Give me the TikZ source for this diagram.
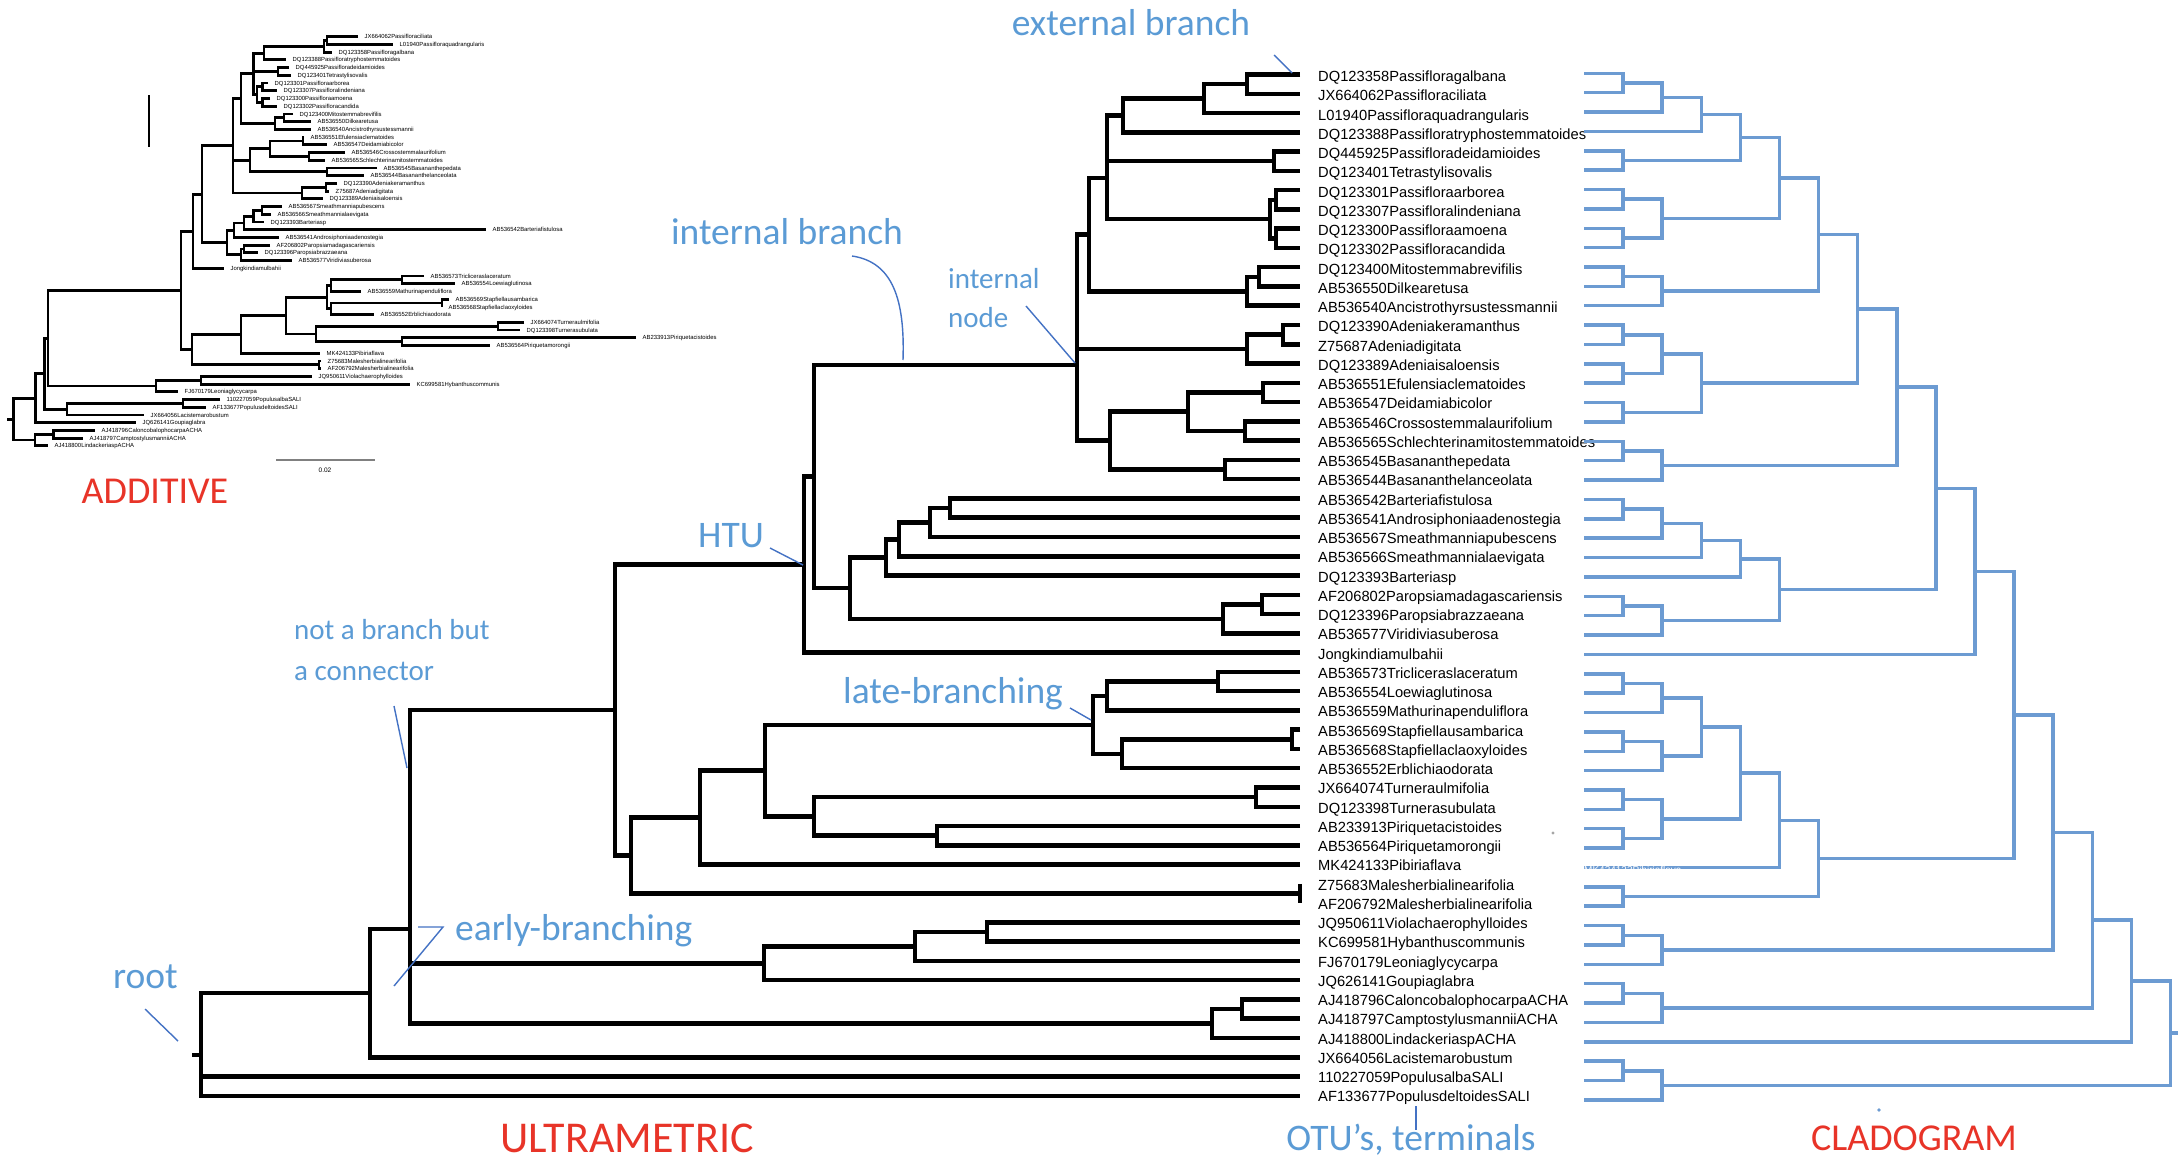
\documentclass[tikz,border=0pt]{standalone}
\usepackage{fontspec}
\setmainfont{Liberation Sans}
\newfontfamily\annfont{Carlito}
\usetikzlibrary{calc}
\definecolor{anncol}{RGB}{91,155,213}
\definecolor{callcol}{RGB}{68,114,196}
\definecolor{cladcol}{RGB}{108,155,210}
\definecolor{redcol}{RGB}{232,52,40}
\newcommand\bnode[4]{\coordinate (X) at (#2,0); \coordinate (#1) at ($(X |- #3)!0.5!(X |- #4)$); \draw[ult] (#3) -| (#1) |- (#4);}
\newcommand\bnodeat[5]{\coordinate (#1) at (#2,#3); \draw[ult] (#4) -| (#1) |- (#5);}
\newcommand\bstem[2]{\draw[ult] (#1) |- (#2);}
\newcommand\cnode[4]{\coordinate (#1) at ($(L#2 |- #3)!0.5!(L#2 |- #4)$); \draw[cl] (#3) -| (#1) |- (#4);}
\newcommand\anode[4]{\coordinate (X) at (#2,0); \coordinate (#1) at ($(X |- #3)!0.5!(X |- #4)$); \draw[add] (#3) -| (#1) |- (#4);}
\newcommand\astem[2]{\draw[add] (#1) |- (#2);}
\begin{document}
\begin{tikzpicture}[x=1pt,y=-1pt,
  ult/.style={line width=4.5pt,line join=miter},
  cl/.style={draw=cladcol,line width=3.5pt,line join=miter},
  add/.style={line width=2.8pt,line join=miter},
  lab/.style={anchor=base west,inner sep=0pt,font=\fontsize{14.7}{16}\selectfont},
  alab/.style={anchor=base west,inner sep=0pt,font=\fontsize{5.9}{6}\selectfont},
  annbig/.style={text=anncol,inner sep=0pt,anchor=base,font=\annfont\fontsize{37.5}{40}\selectfont},
  annsmall/.style={text=anncol,inner sep=0pt,anchor=base west,align=left,font=\annfont\fontsize{29}{40}\selectfont},
  redlabel/.style={text=redcol,inner sep=0pt,anchor=base,font=\annfont\fontsize{38}{42}\selectfont},
  co/.style={draw=callcol,line width=1.4pt}]
\fill[white] (0,0) rectangle (2184,1170);
\useasboundingbox (0,0) rectangle (2184,1170);

% ---------- tip coordinates ----------
\foreach \i in {1,...,54}{
  \coordinate (t\i) at (1300,{74.5+19.27*(\i-1)});
  \coordinate (u\i) at (1584,{73.3+19.37*(\i-1)});
}

% ---------- taxon labels ----------
\foreach \s [count=\i] in {DQ123358Passifloragalbana,JX664062Passifloraciliata,L01940Passifloraquadrangularis,DQ123388Passifloratryphostemmatoides,DQ445925Passifloradeidamioides,DQ123401Tetrastylisovalis,DQ123301Passifloraarborea,DQ123307Passifloralindeniana,DQ123300Passifloraamoena,DQ123302Passifloracandida,DQ123400Mitostemmabrevifilis,AB536550Dilkearetusa,AB536540Ancistrothyrsustessmannii,DQ123390Adeniakeramanthus,Z75687Adeniadigitata,DQ123389Adeniaisaloensis,AB536551Efulensiaclematoides,AB536547Deidamiabicolor,AB536546Crossostemmalaurifolium,AB536565Schlechterinamitostemmatoides,AB536545Basananthepedata,AB536544Basananthelanceolata,AB536542Barteriafistulosa,AB536541Androsiphoniaadenostegia,AB536567Smeathmanniapubescens,AB536566Smeathmannialaevigata,DQ123393Barteriasp,AF206802Paropsiamadagascariensis,DQ123396Paropsiabrazzaeana,AB536577Viridiviasuberosa,Jongkindiamulbahii,AB536573Tricliceraslaceratum,AB536554Loewiaglutinosa,AB536559Mathurinapenduliflora,AB536569Stapfiellausambarica,AB536568Stapfiellaclaoxyloides,AB536552Erblichiaodorata,JX664074Turneraulmifolia,DQ123398Turnerasubulata,AB233913Piriquetacistoides,AB536564Piriquetamorongii,MK424133Pibiriaflava,Z75683Malesherbialinearifolia,AF206792Malesherbialinearifolia,JQ950611Violachaerophylloides,KC699581Hybanthuscommunis,FJ670179Leoniaglycycarpa,JQ626141Goupiaglabra,AJ418796CaloncobalophocarpaACHA,AJ418797CamptostylusmanniiACHA,AJ418800LindackeriaspACHA,JX664056Lacistemarobustum,110227059PopulusalbaSALI,AF133677PopulusdeltoidesSALI}{
  \node[lab] (n\i) at (1318,{81.5+19.25*(\i-1)}) {\s};
}

% ---------- ultrametric tree (black) ----------
\bnode{b12}{1247}{t1}{t2}
\bnode{b123}{1204}{b12}{t3}
\bnode{b1234}{1123}{b123}{t4}
\bnode{b56}{1274}{t5}{t6}
\bnode{b78}{1276}{t7}{t8}
\bnode{b910}{1276}{t9}{t10}
\bnode{b710}{1270}{b78}{b910}
\bnodeat{bA}{1107}{178}{b1234}{b710}
\bstem{bA}{b56}
\bnode{b1112}{1259}{t11}{t12}
\bnode{b1113}{1247}{b1112}{t13}
\bnode{bB}{1089}{bA}{b1113}
\bnode{b1415}{1283}{t14}{t15}
\bnode{b1416}{1247}{b1415}{t16}
\bnode{b1718}{1263}{t17}{t18}
\bnode{b1920}{1245}{t19}{t20}
\bnode{b1720}{1188}{b1718}{b1920}
\bnode{b2122}{1225}{t21}{t22}
\bnode{b1722}{1110}{b1720}{b2122}
\bnodeat{bC}{1077}{365}{bB}{b1722}
\bstem{bC}{b1416}
\bnode{b2324}{950}{t23}{t24}
\bnode{b2325}{930}{b2324}{t25}
\bnode{b2326}{899}{b2325}{t26}
\bnode{b2327}{886}{b2326}{t27}
\bnode{b2829}{1262}{t28}{t29}
\bnode{b2830}{1223}{b2829}{t30}
\bnode{bD}{850}{b2327}{b2830}
\bnode{bE}{814}{bC}{bD}
\bnode{bHTU}{804}{bE}{t31}
\bnode{b3233}{1218}{t32}{t33}
\bnode{b3234}{1107}{b3233}{t34}
\bnode{b3536}{1292}{t35}{t36}
\bnode{b3537}{1122}{b3536}{t37}
\bnode{bLate}{1093}{b3234}{b3537}
\bnode{b3839}{1256}{t38}{t39}
\bnode{b4041}{937}{t40}{t41}
\bnode{b3841}{814}{b3839}{b4041}
\bnode{bF}{765}{bLate}{b3841}
\bnode{bG}{700}{bF}{t42}
\bnode{b4344}{1300}{t43}{t44}
\bnode{bH}{631}{bG}{b4344}
\bnode{bI}{615}{bHTU}{bH}
\bnode{b4546}{987}{t45}{t46}
\bnode{b4547}{915}{b4546}{t47}
\bnode{b4548}{764}{b4547}{t48}
\bnode{b4950}{1242}{t49}{t50}
\bnode{b4951}{1212}{b4950}{t51}
\bnodeat{bJ}{410}{929}{bI}{b4951}
\bstem{bJ}{b4548}
\bnode{bK}{370}{bJ}{t52}
\bnodeat{root}{201}{1055}{bK}{t54}
\bstem{root}{t53}
\coordinate (rootstub) at (192,1055);
\draw[ult] (rootstub) -- (root);

% ---------- cladogram (blue) ----------
\foreach \k in {1,...,15} \coordinate (L\k) at ({1584+39.1*\k},0);
\cnode{c1}{1}{u1}{u2}
\cnode{c2}{2}{c1}{u3}
\cnode{c3}{3}{c2}{u4}
\cnode{c5}{1}{u5}{u6}
\cnode{c4}{4}{c3}{c5}
\cnode{c7}{1}{u7}{u8}
\cnode{c9}{1}{u9}{u10}
\cnode{c7b}{2}{c7}{c9}
\cnode{c6}{5}{c4}{c7b}
\cnode{c11}{1}{u11}{u12}
\cnode{c11b}{2}{c11}{u13}
\cnode{c8}{6}{c6}{c11b}
\cnode{c14}{1}{u14}{u15}
\cnode{c16}{1}{u16}{u17}
\cnode{c14b}{2}{c14}{c16}
\cnode{c18}{1}{u18}{u19}
\cnode{c14c}{3}{c14b}{c18}
\cnode{c10}{7}{c8}{c14c}
\cnode{c20}{1}{u20}{u21}
\cnode{c20b}{2}{c20}{u22}
\cnode{c12}{8}{c10}{c20b}
\cnode{c23}{1}{u23}{u24}
\cnode{c23b}{2}{c23}{u25}
\cnode{c23c}{3}{c23b}{u26}
\cnode{c23d}{4}{c23c}{u27}
\cnode{c28}{1}{u28}{u29}
\cnode{c28b}{2}{c28}{u30}
\cnode{c23e}{5}{c23d}{c28b}
\cnode{c13}{9}{c12}{c23e}
\cnode{c15}{10}{c13}{u31}
\cnode{c32}{1}{u32}{u33}
\cnode{c32b}{2}{c32}{u34}
\cnode{c35}{1}{u35}{u36}
\cnode{c35b}{2}{c35}{u37}
\cnode{c32c}{3}{c32b}{c35b}
\cnode{c38}{1}{u38}{u39}
\cnode{c40}{1}{u40}{u41}
\cnode{c38b}{2}{c38}{c40}
\cnode{c32d}{4}{c32c}{c38b}
\cnode{c32e}{5}{c32d}{u42}
\cnode{c43}{1}{u43}{u44}
\cnode{c32f}{6}{c32e}{c43}
\cnode{c16x}{11}{c15}{c32f}
\cnode{c45}{1}{u45}{u46}
\cnode{c45b}{2}{c45}{u47}
\cnode{c17}{12}{c16x}{c45b}
\cnode{c48}{1}{u48}{u49}
\cnode{c48b}{2}{c48}{u50}
\cnode{c18x}{13}{c17}{c48b}
\cnode{c19}{14}{c18x}{u51}
\cnode{c52}{1}{u52}{u53}
\cnode{c52b}{2}{c52}{u54}
\cnode{croot}{15}{c19}{c52b}
\coordinate (Lend) at (2178,0);
\coordinate (cstub) at (Lend |- croot);
\draw[cl] (croot) -- (cstub);
% faint ghost text crossing the blue line of row 42
\node[anchor=base west,inner sep=0pt,text=white,font=\fontsize{10}{11}\selectfont] (ghost) at ($(u42)+(0,6)$) {MK424133Pibiriaflava};

% ---------- additive tree ----------
\foreach \tx/\s [count=\i] in {358/JX664062Passifloraciliata,393/L01940Passifloraquadrangularis,332/DQ123358Passifloragalbana,286/DQ123388Passifloratryphostemmatoides,289/DQ445925Passifloradeidamioides,291/DQ123401Tetrastylisovalis,268/DQ123301Passifloraarborea,277/DQ123307Passifloralindeniana,270/DQ123300Passifloraamoena,277/DQ123302Passifloracandida,293/DQ123400Mitostemmabrevifilis,311/AB536550Dilkearetusa,311/AB536540Ancistrothyrsustessmannii,304/AB536551Efulensiaclematoides,327/AB536547Deidamiabicolor,345/AB536546Crossostemmalaurifolium,325/AB536565Schlechterinamitostemmatoides,377/AB536545Basananthepedata,364/AB536544Basananthelanceolata,337/DQ123390Adeniakeramanthus,329/Z75687Adeniadigitata,323/DQ123389Adeniaisaloensis,282/AB536567Smeathmanniapubescens,271/AB536566Smeathmannialaevigata,264/DQ123393Barteriasp,486/AB536542Barteriafistulosa,279/AB536541Androsiphoniaadenostegia,270/AF206802Paropsiamadagascariensis,258/DQ123396Paropsiabrazzaeana,292/AB536577Viridiviasuberosa,224/Jongkindiamulbahii,424/AB536573Tricliceraslaceratum,455/AB536554Loewiaglutinosa,361/AB536559Mathurinapenduliflora,449/AB536569Stapfiellausambarica,442/AB536568Stapfiellaclaoxyloides,374/AB536552Erblichiaodorata,524/JX664074Turneraulmifolia,520/DQ123398Turnerasubulata,636/AB233913Piriquetacistoides,490/AB536564Piriquetamorongii,320/MK424133Pibiriaflava,321/Z75683Malesherbialinearifolia,321/AF206792Malesherbialinearifolia,312/JQ950611Violachaerophylloides,410/KC699581Hybanthuscommunis,178/FJ670179Leoniaglycycarpa,220/110227059PopulusalbaSALI,206/AF133677PopulusdeltoidesSALI,144/JX664056Lacistemarobustum,136/JQ626141Goupiaglabra,95/AJ418796CaloncobalophocarpaACHA,83/AJ418797CamptostylusmanniiACHA,48/AJ418800LindackeriaspACHA}{
  \coordinate (s\i) at (\tx,{36.7+7.72*(\i-1)});
  \node[alab] (m\i) at (\tx+6.5,{38.8+7.72*(\i-1)}) {\s};
}
\anode{A12}{327}{s1}{s2}
\anode{A123}{324}{A12}{s3}
\anode{A4}{264}{A123}{s4}
\anode{A56}{278}{s5}{s6}
\anode{A78}{262.5}{s7}{s8}
\anode{A910}{262.5}{s9}{s10}
\anode{A710}{257}{A78}{A910}
\anode{A5x}{253.6}{A4}{A710}
\astem{A5x}{A56}
\anode{A1112}{284}{s11}{s12}
\anode{A1113}{275}{A1112}{s13}
\anode{A7x}{241}{A5x}{A1113}
\anode{A1415}{303}{s14}{s15}
\anode{A1617}{309}{s16}{s17}
\anode{A1417}{270}{A1415}{A1617}
\anode{A1819}{327}{s18}{s19}
\anode{A1419}{250}{A1417}{A1819}
\anode{A2021}{326}{s20}{s21}
\anode{A2022}{302}{A2021}{s22}
\anode{A10x}{233}{A7x}{A2022}
\astem{A10x}{A1419}
\anode{A2324}{262}{s23}{s24}
\anode{A2325}{253.6}{A2324}{s25}
\anode{A2326}{244}{A2325}{s26}
\anode{A2327}{234}{A2326}{s27}
\anode{A2829}{244}{s28}{s29}
\anode{A2830}{241}{A2829}{s30}
\anode{A2330}{227}{A2327}{A2830}
\anode{A1230}{202}{A10x}{A2330}
\anode{A1231}{193}{A1230}{s31}
\anode{A3233}{402}{s32}{s33}
\anode{A3234}{331}{A3233}{s34}
\anode{A3536}{442}{s35}{s36}
\anode{A3537}{331}{A3536}{s37}
\anode{A3237}{327}{A3234}{A3537}
\anode{A3839}{498}{s38}{s39}
\anode{A4041}{402}{s40}{s41}
\anode{A3841}{316}{A3839}{A4041}
\anode{A3241}{286}{A3237}{A3841}
\anode{A3242}{241}{A3241}{s42}
\anode{A4344}{319}{s43}{s44}
\anode{A3244}{192}{A3242}{A4344}
\anode{A131}{181}{A1231}{A3244}
\anode{A4546}{201}{s45}{s46}
\anode{A4547}{156}{A4546}{s47}
\anode{A48}{48}{A131}{A4547}
\anode{A4849}{183}{s48}{s49}
\anode{A4850}{67}{A4849}{s50}
\anode{A4850x}{44.6}{A48}{A4850}
\anode{A51}{35.7}{A4850x}{s51}
\anode{A5253}{53.6}{s52}{s53}
\anode{A5254}{35}{A5253}{s54}
\anode{Aroot}{13.4}{A51}{A5254}
\coordinate (Astubx) at (7,0);
\coordinate (Astub) at (Astubx |- Aroot);
\draw[add] (Astub) -- (Aroot);
% scale bar and vertical bar
\coordinate (vb1) at (149,95); \coordinate (vb2) at (149,147);
\draw[line width=2.6pt] (vb1) -- (vb2);
\coordinate (sb1) at (276,460); \coordinate (sb2) at (375,460);
\draw[gray,line width=1.2pt] (sb1) -- (sb2);
\node[inner sep=0pt,font=\fontsize{6.5}{7}\selectfont] (sbl) at (325,470) {0.02};

% ---------- annotations ----------
\node[annbig] (extb) at (1131,35) {external branch};
\node[annbig] (intb) at (787,244) {internal branch};
\node[annsmall] (intn1) at (948,288) {internal};
\node[annsmall] (intn2) at (948,327) {node};
\node[annbig] (htu) at (731,547) {HTU};
\node[annbig,anchor=base west] (late) at (843,703) {late-branching};
\node[annbig,anchor=base west] (early) at (455,940) {early-branching};
\node[annbig,anchor=base west] (rootl) at (113,988) {root};
\node[annsmall] (conn1) at (294,639) {not a branch but};
\node[annsmall] (conn2) at (294,680) {a connector};
\node[annbig] (otu) at (1411,1150) {OTU’s, terminals};
\node[redlabel] (addl) at (155,503) {ADDITIVE};
\node[redlabel,font=\annfont\fontsize{44}{48}\selectfont] (ultl) at (627,1152) {ULTRAMETRIC};
\node[redlabel] (cladl) at (1914,1150) {CLADOGRAM};

% callout lines
\coordinate (ce1) at (1274,55); \coordinate (ce2) at (1292,73);
\draw[co] (ce1) -- (ce2);
\coordinate (ci1) at (852,256); \coordinate (ci2) at (903,360);
\draw[co] (ci1) .. controls (893,262) and (905,300) .. (ci2);
\coordinate (cn1) at (1026,306); \coordinate (cn2) at (1075,363);
\draw[co] (cn1) -- (cn2);
\coordinate (ch1) at (770,548); \coordinate (ch2) at (803,565);
\draw[co] (ch1) -- (ch2);
\coordinate (cl1) at (1070,708); \coordinate (cl2) at (1091,720);
\draw[co] (cl1) -- (cl2);
\coordinate (cy1) at (418,927); \coordinate (cy2) at (443,927); \coordinate (cy3) at (394,986);
\draw[co] (cy1) -- (cy2) -- (cy3);
\coordinate (cc1) at (394,706); \coordinate (cc2) at (407,768);
\draw[co] (cc1) -- (cc2);
\coordinate (cr1) at (145,1009); \coordinate (cr2) at (178,1041);
\draw[co] (cr1) -- (cr2);
\coordinate (co1) at (1416,1106); \coordinate (co2) at (1416,1130);
\draw[co] (co1) -- (co2);
% stray dots
\fill[gray!70] (1553,833) circle (1.6);
\fill[cladcol] (1879,1110) circle (1.8);
\end{tikzpicture}
\end{document}
